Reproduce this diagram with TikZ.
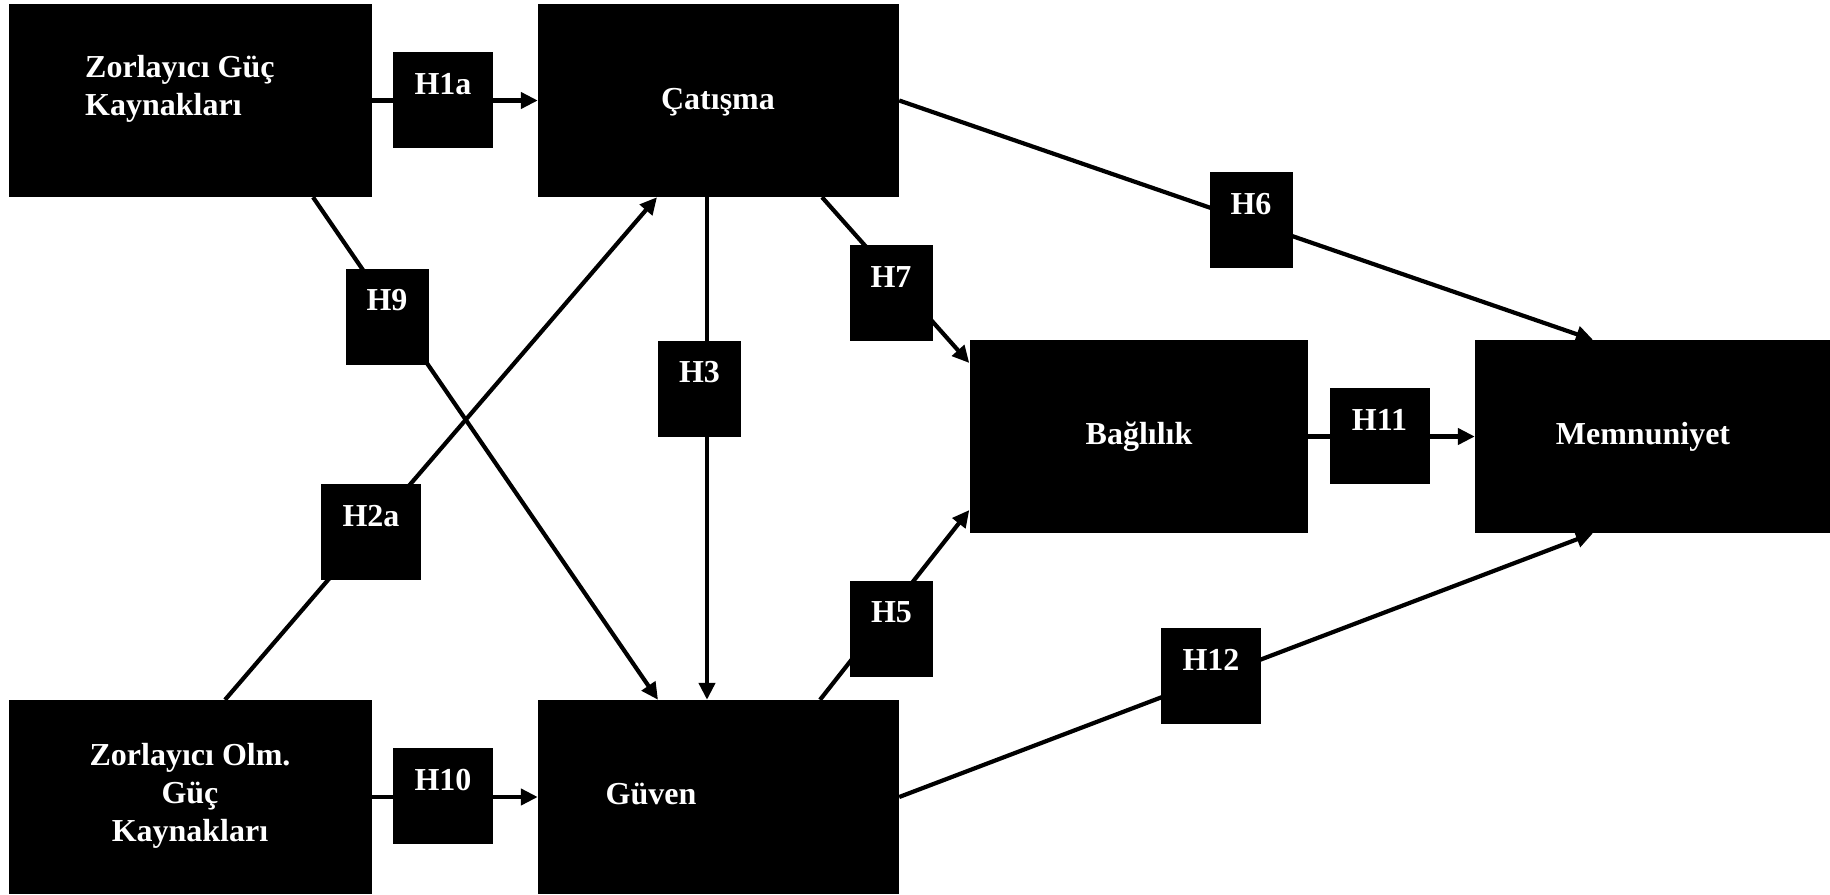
\documentclass[tikz,border=0pt]{standalone}
\usepackage{fontspec}
\setmainfont{Liberation Serif}
\usetikzlibrary{arrows.meta}
\pgfdeclarelayer{links}
\pgfsetlayers{links,main}

\tikzset{
  block/.style={fill=black, draw=none, inner sep=0pt, rectangle},
  blocktext/.style={text=white, inner sep=0pt, font=\bfseries\fontsize{32}{38}\selectfont},
  hyp/.style={fill=black, draw=none, rectangle, inner xsep=0pt, inner ysep=0pt,
    text=white, font=\bfseries\fontsize{32}{33}\selectfont,
    minimum height=96pt, text height=42pt, text depth=54pt},
  wide/.style={minimum width=100pt},
  narrow/.style={minimum width=83pt},
  link/.style={line width=4.2pt, -{Triangle[length=17pt,width=16pt]}},
}

\begin{document}
\begin{tikzpicture}[x=1pt, y=-1pt]
\useasboundingbox (0,0) rectangle (1830,894);

% construct blocks
\node[block, minimum width=363pt, minimum height=193pt] (zgk) at (190.5,100.5) {};
\node[block, minimum width=361pt, minimum height=193pt] (cat) at (718.5,100.5) {};
\node[block, minimum width=363pt, minimum height=194pt] (zog) at (190.5,797) {};
\node[block, minimum width=361pt, minimum height=194pt] (guv) at (718.5,797) {};
\node[block, minimum width=338pt, minimum height=193pt] (bag) at (1138.5,436.5) {};
\node[block, minimum width=356pt, minimum height=193pt] (mem) at (1653,436.5) {};

% block captions (base anchor sits on the last line)
\node[blocktext, align=left, anchor=base west] (zgkT) at (85,115.5)
  {\fontsize{32}{38.5}\selectfont Zorlayıcı Güç\\Kaynakları};
\node[blocktext, anchor=base] (catT) at (718,109) {Çatışma};
\node[blocktext, align=center, anchor=base] (zogT) at (190,841)
  {\fontsize{32}{37.5}\selectfont Zorlayıcı Olm.\\Güç\\Kaynakları};
\node[blocktext, anchor=base] (guvT) at (651,804) {Güven};
\node[blocktext, anchor=base] (bagT) at (1139,444) {Bağlılık};
\node[blocktext, anchor=base] (memT) at (1643,444) {Memnuniyet};

% hypothesis labels
\node[hyp, wide]   (h1a) at (443,100)   {H1a};
\node[hyp, narrow] (h9)  at (387,316.5) {H9};
\node[hyp, wide]   (h2a) at (371,532)   {H2a};
\node[hyp, narrow] (h3)  at (699.5,388.5) {H3};
\node[hyp, narrow] (h7)  at (891,293)   {H7};
\node[hyp, narrow] (h6)  at (1251,220)  {H6};
\node[hyp, narrow] (h5)  at (891.5,628.5) {H5};
\node[hyp, wide]   (h11) at (1379.5,436) {H11};
\node[hyp, wide]   (h12) at (1211,676)  {H12};
\node[hyp, wide]   (h10) at (443,796)   {H10};

% paths between constructs, drawn beneath the labels
\begin{pgfonlayer}{links}
\draw[link] (zgk.east) -- (cat.west);
\draw[link] ([xshift=122.5pt]zgk.south) -- ([xshift=-60.5pt]guv.north);
\draw[link] ([xshift=34.5pt]zog.north) -- ([xshift=-61.5pt]cat.south);
\draw[link] ([xshift=-11.5pt]cat.south) -- ([xshift=-11.5pt]guv.north);
\draw[link] ([xshift=103.5pt]cat.south) -- ([yshift=73.5pt]bag.west);
\draw[link] (cat.east) -- ([xshift=-60pt]mem.north);
\draw[link] ([xshift=101.5pt]guv.north) -- ([yshift=-73.5pt]bag.west);
\draw[link] (guv.east) -- ([xshift=-60pt]mem.south);
\draw[link] (bag.east) -- (mem.west);
\draw[link] (zog.east) -- (guv.west);
\end{pgfonlayer}
\end{tikzpicture}
\end{document}
